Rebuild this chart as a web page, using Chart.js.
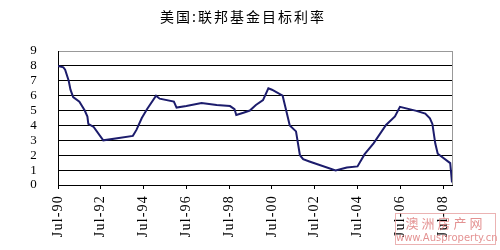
<!DOCTYPE html>
<html>
<head>
<meta charset="utf-8">
<script src="https://cdn.jsdelivr.net/npm/chart.js@4"></script>
<style>
  html, body { margin: 0; padding: 0; background: #fff; }
  #wrap { position: relative; width: 500px; height: 250px; }
  #title {
    position: absolute; top: 6px; left: 0; width: 486px; text-align: center;
    font: 14px "Noto Sans CJK SC", sans-serif; letter-spacing: 2px; color: #000;
  }
  #mark {
    position: absolute; left: 395px; top: 213px; width: 99px; height: 30px;
    border: 1px solid #e6a0a0; color: #d77; text-align: center; opacity: 0.8;
    font-family: "Noto Sans CJK SC", sans-serif; line-height: 1;
  }
  #mark .cn { font-size: 13px; letter-spacing: 3px; margin-top: 2px; }
  #mark .en { font: 10px "DejaVu Sans", sans-serif; margin-top: 3px; }
</style>
</head>
<body>
<div id="wrap">
  <canvas id="chart" width="500" height="250"></canvas>
  <div id="title">美国:联邦基金目标利率</div>
  <div id="mark"><div class="cn">澳洲房产网</div><div class="en">www.Ausproperty.cn</div></div>
</div>
<script>
// months counted from Jul-90
const months = [0, 3, 4, 6, 7, 8.5, 12, 15, 16.5, 17, 20, 25.4, 42, 44, 47, 50, 55, 57, 65, 66.5, 72, 80.5, 89, 96.5,
  99, 100, 104, 107.6, 111, 115, 118, 120, 126, 128, 130, 133.5, 135.7, 137.5, 141, 155.7, 162, 168, 172, 177, 184,
  189, 191.8, 201, 206, 208.6, 210, 211.6, 213, 220, 221];
const rates = [8.0, 7.9, 7.75, 7.0, 6.4, 5.9, 5.6, 5.0, 4.6, 4.1, 3.9, 3.0, 3.3, 3.7, 4.5, 5.1, 6.0, 5.8, 5.6, 5.2, 5.3, 5.5, 5.37, 5.3,
  5.1, 4.7, 4.85, 5.0, 5.37, 5.7, 6.5, 6.4, 6.0, 5.0, 4.0, 3.6, 2.0, 1.73, 1.58, 0.98, 1.18, 1.25, 2.07, 2.8, 4.03,
  4.6, 5.25, 4.98, 4.8, 4.48, 4.1, 2.8, 2.1, 1.47, 0.17];
const tickMonths = [0, 24, 48, 72, 96, 120, 144, 168, 192, 216];
const tickLabels = ['Jul-90', 'Jul-92', 'Jul-94', 'Jul-96', 'Jul-98', 'Jul-00', 'Jul-02', 'Jul-04', 'Jul-06', 'Jul-08'];
const yTicks = [0, 1, 2, 3, 4, 5, 6, 7, 8, 9];

const points = months.map((m, i) => ({ x: m, y: rates[i] }));

// grey frame on the right side, and a bit of letter spacing for the axis labels
const frame = {
  id: 'frame',
  beforeDraw(chart) {
    chart.ctx.letterSpacing = '1.2px';
  },
  afterDraw(chart) {
    const { ctx, chartArea } = chart;
    ctx.save();
    ctx.strokeStyle = '#999';
    ctx.lineWidth = 1;
    ctx.beginPath();
    ctx.moveTo(chartArea.right + 0.5, chartArea.top);
    ctx.lineTo(chartArea.right + 0.5, chartArea.bottom);
    ctx.stroke();
    ctx.restore();
  }
};

new Chart(document.getElementById('chart'), {
  type: 'line',
  data: {
    datasets: [{
      data: points,
      borderColor: '#1c1c6c',
      borderWidth: 2,
      pointRadius: 0,
      tension: 0,
      fill: false
    }]
  },
  options: {
    responsive: false,
    animation: false,
    layout: { padding: { left: 0, top: 51, right: 48, bottom: 0 } },
    plugins: { legend: { display: false }, tooltip: { enabled: false } },
    scales: {
      x: {
        type: 'linear',
        min: 0,
        max: 221,
        afterFit(scale) { scale.height = 65; },
        afterBuildTicks(scale) { scale.ticks = tickMonths.map(v => ({ value: v })); },
        border: { color: '#000', width: 1 },
        grid: { drawOnChartArea: false, color: '#000', tickLength: 4 },
        ticks: {
          autoSkip: false,
          minRotation: 90,
          maxRotation: 90,
          padding: 6,
          color: '#000',
          font: { family: 'Liberation Serif', size: 14 },
          callback: (v) => tickLabels[tickMonths.indexOf(v)]
        }
      },
      y: {
        min: 0,
        max: 9,
        afterFit(scale) { scale.width = 58; },
        afterBuildTicks(scale) { scale.ticks = yTicks.map(v => ({ value: v })); },
        border: { color: '#000', width: 1 },
        grid: {
          drawTicks: false,
          color: (c) => c.tick && c.tick.value === 9 ? '#999' : '#000',
          lineWidth: 1
        },
        ticks: {
          autoSkip: false,
          padding: 20,
          color: '#000',
          font: { family: 'Liberation Serif', size: 13 }
        }
      }
    }
  },
  plugins: [frame]
});
</script>
</body>
</html>
